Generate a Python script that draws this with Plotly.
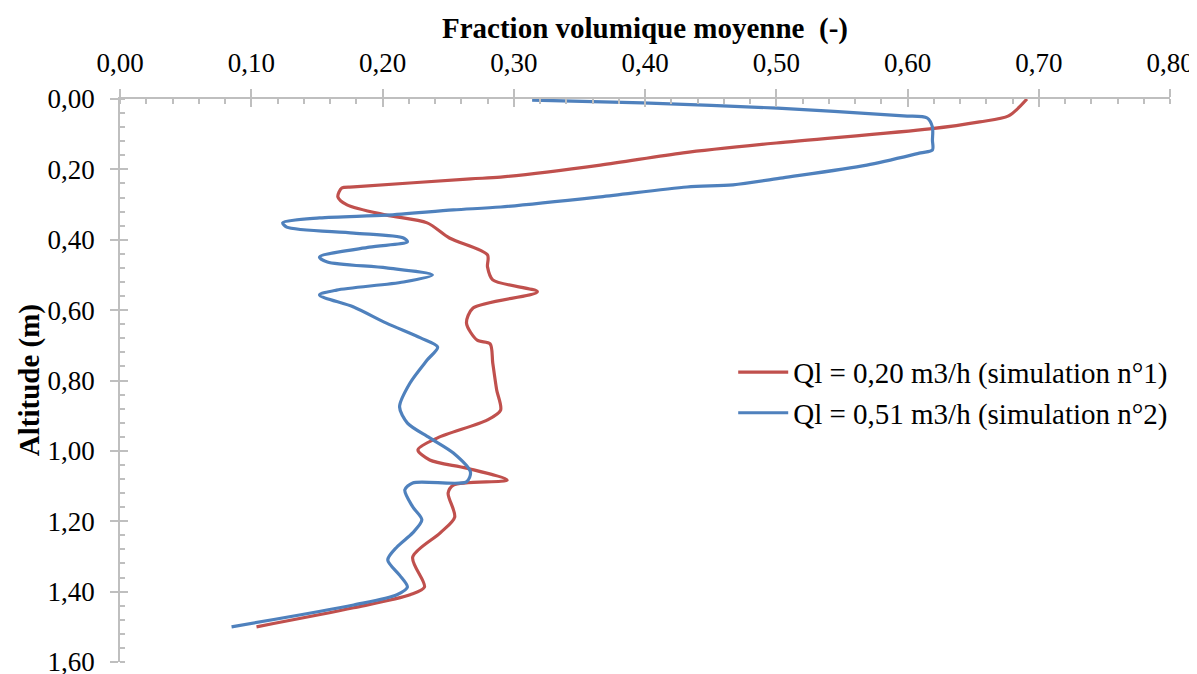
import plotly.graph_objects as go

# simulation 1 : Ql = 0,20 m3/h
frac_1 = [0.691, 0.677, 0.655, 0.617, 0.500, 0.429, 0.366, 0.290, 0.267, 0.178,
          0.169, 0.166, 0.173, 0.203, 0.234, 0.251, 0.280, 0.280, 0.284, 0.318,
          0.269, 0.264, 0.272, 0.282, 0.284, 0.287, 0.290, 0.280, 0.242, 0.227,
          0.236, 0.264, 0.295, 0.254, 0.250, 0.255, 0.244, 0.223, 0.232, 0.221,
          0.178, 0.104]
alt_1 = [0.000, 0.048, 0.065, 0.085, 0.125, 0.153, 0.188, 0.222, 0.227, 0.250,
         0.253, 0.278, 0.301, 0.330, 0.352, 0.395, 0.443, 0.477, 0.514, 0.548,
         0.594, 0.637, 0.685, 0.696, 0.750, 0.827, 0.884, 0.912, 0.963, 0.997,
         1.026, 1.049, 1.083, 1.097, 1.120, 1.188, 1.233, 1.302, 1.387, 1.409,
         1.446, 1.500]

# simulation 2 : Ql = 0,51 m3/h
frac_2 = [0.314, 0.398, 0.501, 0.597, 0.615, 0.619, 0.619, 0.619, 0.610, 0.569,
          0.505, 0.467, 0.432, 0.366, 0.290, 0.254, 0.203, 0.152, 0.124, 0.127,
          0.178, 0.216, 0.219, 0.190, 0.152, 0.158, 0.203, 0.238, 0.216, 0.165,
          0.152, 0.178, 0.203, 0.229, 0.242, 0.234, 0.221, 0.213, 0.219, 0.236,
          0.254, 0.267, 0.264, 0.223, 0.217, 0.223, 0.230, 0.223, 0.211, 0.204,
          0.213, 0.219, 0.211, 0.178, 0.085]
alt_2 = [0.003, 0.011, 0.026, 0.048, 0.054, 0.080, 0.117, 0.145, 0.153, 0.188,
         0.224, 0.244, 0.250, 0.278, 0.307, 0.315, 0.330, 0.338, 0.352, 0.364,
         0.381, 0.395, 0.406, 0.421, 0.449, 0.463, 0.480, 0.500, 0.520, 0.543,
         0.557, 0.591, 0.637, 0.679, 0.705, 0.742, 0.807, 0.875, 0.921, 0.963,
         1.006, 1.060, 1.088, 1.091, 1.111, 1.159, 1.196, 1.233, 1.273, 1.310,
         1.353, 1.387, 1.409, 1.438, 1.500]

x_ticks = [0.0, 0.1, 0.2, 0.3, 0.4, 0.5, 0.6, 0.7, 0.8]
y_ticks = [0.0, 0.2, 0.4, 0.6, 0.8, 1.0, 1.2, 1.4, 1.6]

font = "Liberation Serif, Times New Roman, serif"
axis_col = "#bfbfbf"

fig = go.Figure()
fig.add_trace(go.Scatter(x=frac_1, y=alt_1, mode="lines", line_shape="spline",
                         line=dict(color="#C0504D", width=3.2, smoothing=0.8),
                         name="Ql = 0,20 m3/h (simulation n°1)"))
fig.add_trace(go.Scatter(x=frac_2, y=alt_2, mode="lines", line_shape="spline",
                         line=dict(color="#4F81BD", width=3.2, smoothing=0.8),
                         name="Ql = 0,51 m3/h (simulation n°2)"))
# invisible trace so the overlay axes get drawn
fig.add_trace(go.Scatter(x=[None], y=[None], xaxis="x2", yaxis="y2",
                         showlegend=False, hoverinfo="skip"))

# page body has an 8px margin, so the figure is a bit smaller and shifted
fig.update_layout(
    width=1189, height=666,
    margin=dict(l=112, r=27, t=91, b=12, autoexpand=False),
    paper_bgcolor="white", plot_bgcolor="white",
    separators=", ",
    font=dict(family=font, size=27, color="black"),
    showlegend=True,
    legend=dict(x=0.584, y=0.56, xanchor="left", yanchor="top",
                font=dict(size=29), bgcolor="rgba(0,0,0,0)",
                tracegroupgap=0, itemwidth=50),
    annotations=[
        dict(text="<b>Fraction volumique moyenne  (-)</b>", x=0.5, y=1.126,
             xref="paper", yref="paper", xanchor="center", yanchor="middle",
             showarrow=False, font=dict(size=29)),
        dict(text="<b>Altitude (m)</b>", x=-0.086, y=0.5, textangle=-90,
             xref="paper", yref="paper", xanchor="center", yanchor="middle",
             showarrow=False, font=dict(size=29)),
    ],
    xaxis=dict(
        side="top", range=[0, 0.8], tickvals=x_ticks, tickformat=".2f",
        automargin=False, showgrid=False, zeroline=False,
        showline=True, linecolor=axis_col, linewidth=1.5,
        ticks="outside", ticklen=8, tickcolor=axis_col, tickwidth=1.5,
        ticklabelstandoff=6, ticklabeloverflow="allow",
        minor=dict(dtick=0.02, ticks="inside", ticklen=5, tickcolor=axis_col, showgrid=False),
    ),
    yaxis=dict(
        range=[1.6, 0], tickvals=y_ticks, tickformat=".2f",
        automargin=False, showgrid=False, zeroline=False,
        showline=True, linecolor=axis_col, linewidth=1.5,
        ticks="outside", ticklen=8, tickcolor=axis_col, tickwidth=1.5,
        ticklabelstandoff=10, ticklabeloverflow="allow",
        minor=dict(dtick=0.04, ticks="inside", ticklen=5, tickcolor=axis_col, showgrid=False),
    ),
    # overlay axes only to draw the inner half of the major ticks
    xaxis2=dict(overlaying="x", side="top", range=[0, 0.8], tickvals=x_ticks,
                showticklabels=False, ticks="inside", ticklen=8, tickwidth=1.5,
                tickcolor=axis_col, showgrid=False, zeroline=False, showline=False),
    yaxis2=dict(overlaying="y", side="left", range=[1.6, 0], tickvals=y_ticks,
                showticklabels=False, ticks="inside", ticklen=8, tickwidth=1.5,
                tickcolor=axis_col, showgrid=False, zeroline=False, showline=False),
)

fig.write_html("out.html")
